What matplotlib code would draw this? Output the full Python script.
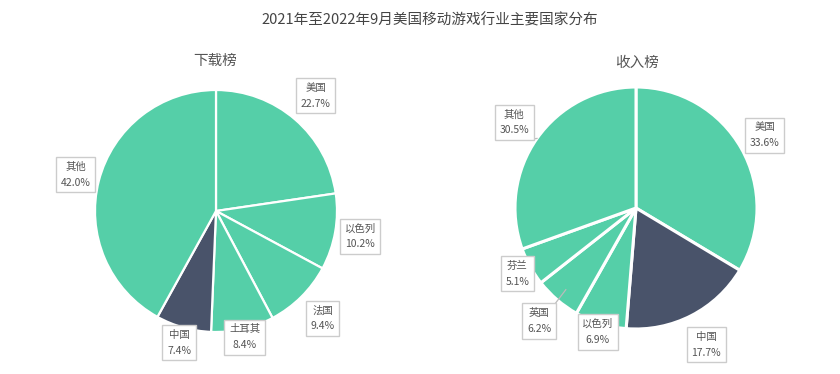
import numpy as np
import matplotlib
matplotlib.use('Agg')
import matplotlib.pyplot as plt

plt.rcParams['font.family'] = ['Noto Sans CJK SC', 'DejaVu Sans']

# 数据
title = '2021年至2022年9月美国移动游戏行业主要国家分布'
dl_title = '下载榜'
dl_labels = ['美国', '以色列', '法国', '土耳其', '中国', '其他']
dl_values = [22.7, 10.2, 9.4, 8.4, 7.4, 42.0]
rev_title = '收入榜'
rev_labels = ['美国', '中国', '以色列', '英国', '芬兰', '其他']
rev_values = [33.6, 17.7, 6.9, 6.2, 5.1, 30.5]

# 样式
W, H = 840, 374
GREEN = '#55cfa8'
DARK = '#49536a'
R = 121
dl_center = (216, H - 211)
rev_center = (636, H - 208)
dl_lab_r = [1.26, 1.21, 1.25, 1.07, 1.13, 1.20]
rev_lab_r = [1.22, 1.27, 1.07, 1.23, 1.12, 1.23]
# 引导线终点（相对半径）
rev_leader = {'英国': 0.89, '其他': 1.0}

fig = plt.figure(figsize=(8.4, 3.74), dpi=100)
ax = fig.add_axes([0, 0, 1, 1])


def draw_pie(labels, values, center, lab_r, lw, leader=None):
    leader = leader or {}
    colors = [DARK if l == '中国' else GREEN for l in labels]
    ax.pie(values, colors=colors, startangle=90, counterclock=False,
           center=center, radius=R,
           wedgeprops=dict(edgecolor='white', linewidth=lw))
    total = sum(values)
    cum = np.cumsum([0] + list(values))
    for i, (lab, v) in enumerate(zip(labels, values)):
        mid = (cum[i] + v / 2) / total * 2 * np.pi
        s, c = np.sin(mid), np.cos(mid)
        x = center[0] + R * lab_r[i] * s
        y = center[1] + R * lab_r[i] * c
        if lab in leader:
            k = leader[lab]
            ax.plot([x + 16 * np.sign(-s), center[0] + R * k * s],
                    [y + 17 * np.sign(-c), center[1] + R * k * c],
                    color='#bbbbbb', lw=0.9, zorder=3)
        ax.text(x, y, f'{lab}\n{v:.1f}%', ha='center', va='center',
                fontsize=7.5, color='#555555', linespacing=1.75, zorder=5,
                bbox=dict(boxstyle='square,pad=0.45', fc='white',
                          ec='#cccccc', lw=1))


draw_pie(dl_labels, dl_values, dl_center, dl_lab_r, 1.6)
draw_pie(rev_labels, rev_values, rev_center, rev_lab_r, 2.2, leader=rev_leader)

ax.set_xlim(0, W)
ax.set_ylim(0, H)
ax.set_aspect('equal')
ax.axis('off')

fig.text(0.512, 1 - 20 / H, title, ha='center', va='center', fontsize=10.5, color='#444444')
fig.text(215 / W, 1 - 61 / H, dl_title, ha='center', va='center', fontsize=10.5, color='#555555')
fig.text(637 / W, 1 - 63 / H, rev_title, ha='center', va='center', fontsize=10.5, color='#555555')

fig.savefig('out.png', dpi=100)
